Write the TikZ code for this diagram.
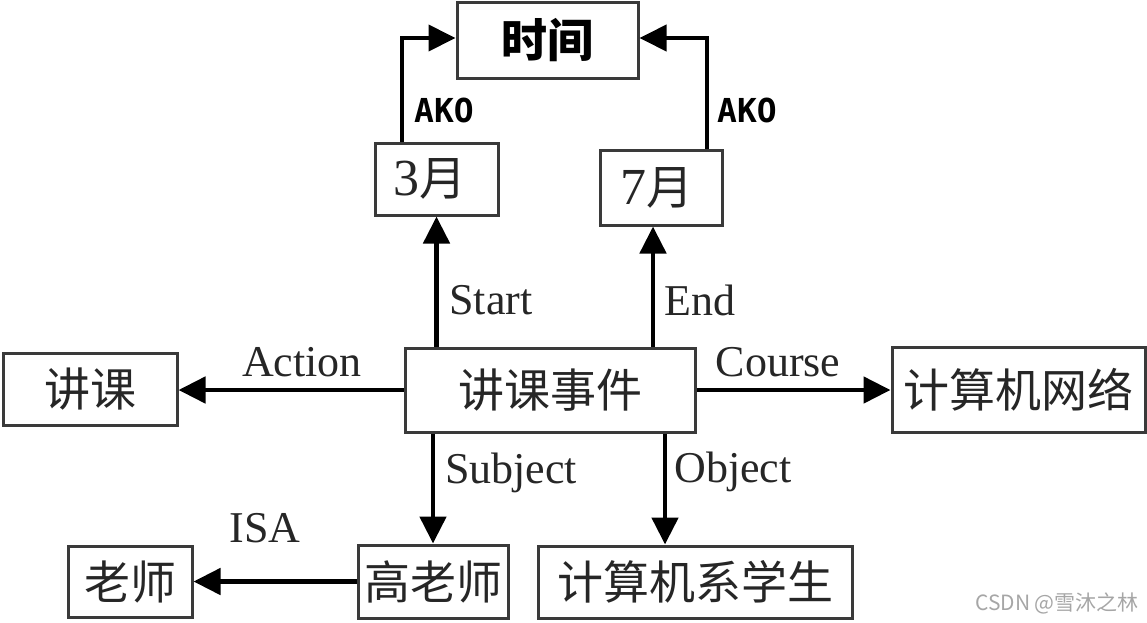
\documentclass[tikz,border=0pt]{standalone}
\usepackage{fontspec}
\setmainfont{Liberation Serif}
\newfontfamily\cjk{Noto Sans CJK SC}
\newfontfamily\monof{DejaVu Sans Mono}
\usetikzlibrary{arrows.meta,calc}
\definecolor{boxc}{HTML}{3A3A3A}
\definecolor{txtc}{HTML}{262626}
\tikzset{
  box/.style={draw=boxc, line width=3pt, inner sep=0pt, text=txtc, font=\cjk\fontsize{46}{50}\selectfont},
  arr/.style={line width=4.8pt, -{Triangle[length=27pt,width=26pt]}},
  akoarr/.style={line width=4pt, -{Triangle[length=27pt,width=26pt]}},
  rel/.style={text=txtc, font=\fontsize{44}{48}\selectfont},
  ako/.style={text=black, font=\monof\bfseries\fontsize{33}{38}\selectfont},
  wm/.style={text=black!35, font=\cjk\fontsize{21}{24}\selectfont}
}
\begin{document}
\begin{tikzpicture}[x=1pt,y=-1pt]
\useasboundingbox (0,0) rectangle (1147,622);
% boxes
\node[box, minimum width=181pt, minimum height=76pt, font=\cjk\bfseries\fontsize{46}{50}\selectfont, text=black] (t) at (547.5,40) {时间};
\node[box, minimum width=123pt, minimum height=72pt, font=\fontsize{52}{56}\selectfont] (m3) at (436.5,179) {3{\cjk\fontsize{47}{50}\selectfont 月}\hspace*{14pt}};
\node[box, minimum width=122pt, minimum height=75pt, font=\fontsize{52}{56}\selectfont] (m7) at (661,187.5) {7{\cjk\fontsize{47}{50}\selectfont 月}\hspace*{8pt}};
\node[box, minimum width=290pt, minimum height=84pt] (ev) at (550,390) {讲课事件};
\node[box, minimum width=174pt, minimum height=72pt] (jk) at (90,389) {讲课};
\node[box, minimum width=253pt, minimum height=85pt] (net) at (1018.5,389.5) {计算机网络};
\node[box, minimum width=124pt, minimum height=71pt] (ls) at (130,581.5) {老师};
\node[box, minimum width=150pt, minimum height=73pt] (gls) at (433,581.5) {高老师};
\node[box, minimum width=314pt, minimum height=72pt] (stu) at (695,582) {计算机系学生};
% AKO connectors
\draw[akoarr] ([xshift=-34.5pt]m3.north) |- ([yshift=2pt]t.west);
\draw[akoarr] ([xshift=46pt]m7.north) |- ([yshift=2pt]t.east);
% event connectors
\draw[arr] (m3.south |- ev.north) -- (m3.south);
\draw[arr] ([xshift=-8pt]m7.south |- ev.north) -- ([xshift=-8pt]m7.south);
\draw[arr] (ev.west) -- (jk.east |- ev.west);
\draw[arr] (ev.east) -- (net.west |- ev.east);
\draw[arr] (gls.north |- ev.south) -- (gls.north);
\draw[arr] ([xshift=-30pt]stu.north |- ev.south) -- ([xshift=-30pt]stu.north);
\draw[arr] (gls.west) -- (ls.east |- gls.west);
% labels
\node[ako] (l1) at (444,110) {AKO};
\node[ako] (l2) at (747,110) {AKO};
\node[rel] (l3) at (491,300) {Start};
\node[rel] (l4) at (700,300) {End};
\node[rel] (l5) at (302,362) {Action};
\node[rel] (l6) at (778,362) {Course};
\node[rel] (l7) at (511,473) {Subject};
\node[rel] (l8) at (733,472) {Object};
\node[rel] (l9) at (265,528) {ISA};
\node[wm] (w) at (1057,603) {CSDN @雪沐之林};
\end{tikzpicture}
\end{document}
